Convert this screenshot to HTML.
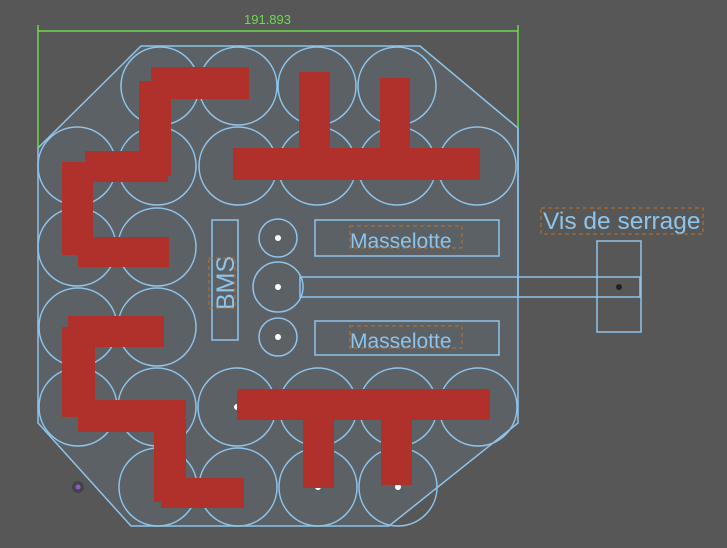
<!DOCTYPE html>
<html><head><style>body{margin:0;background:#575757;}svg{display:block}</style></head><body>
<svg width="727" height="548" xmlns="http://www.w3.org/2000/svg" font-family="Liberation Sans, sans-serif">
<rect width="727" height="548" fill="#575757"/>
<polygon points="141,46 420,46 518,128 518,423 389,526 131,526 38,423 38,148" fill="#5c6166" stroke="#8ec4ea" stroke-width="1.5"/>
<g fill="none" stroke="#8ec4ea" stroke-width="1.5">
<circle cx="160" cy="86" r="39"/><circle cx="238" cy="86" r="39"/><circle cx="317" cy="86" r="39"/><circle cx="397" cy="86" r="39"/>
<circle cx="77" cy="166" r="39"/><circle cx="157" cy="166" r="39"/><circle cx="238" cy="166" r="39"/><circle cx="317" cy="166" r="39"/><circle cx="397" cy="166" r="39"/><circle cx="477" cy="166" r="39"/>
<circle cx="77" cy="247" r="39"/><circle cx="157" cy="247" r="39"/>
<circle cx="78" cy="327" r="39"/><circle cx="157" cy="327" r="39"/>
<circle cx="78" cy="407" r="39"/><circle cx="157" cy="407" r="39"/><circle cx="237" cy="407" r="39"/><circle cx="318" cy="407" r="39"/><circle cx="398" cy="407" r="39"/><circle cx="478" cy="407" r="39"/>
<circle cx="158" cy="487" r="39"/><circle cx="238" cy="487" r="39"/><circle cx="318" cy="487" r="39"/><circle cx="398" cy="487" r="39"/>
<rect x="212" y="220" width="26" height="120"/>
<circle cx="278" cy="238" r="19"/><circle cx="278" cy="287" r="25"/><circle cx="278" cy="337" r="19"/>
<rect x="315" y="220" width="184" height="36"/><rect x="315" y="321" width="184" height="34"/>
<rect x="300" y="277" width="340" height="20"/>
<line x1="518" y1="128" x2="518" y2="297"/>
<rect x="597" y="241" width="44" height="91"/>
</g>
<g fill="#fff"><circle cx="278" cy="238" r="3"/><circle cx="278" cy="287" r="3"/><circle cx="278" cy="337" r="3"/><circle cx="318" cy="487" r="3"/><circle cx="398" cy="487" r="3"/><circle cx="237" cy="407" r="3"/></g>
<circle cx="619" cy="287" r="3" fill="#222"/>
<g fill="#b0302b">
<rect x="151" y="67" width="98" height="32"/><rect x="139" y="81" width="32" height="95"/><rect x="85" y="151" width="83" height="31"/><rect x="62" y="162" width="31" height="93"/><rect x="78" y="237" width="91" height="30"/>
<rect x="299" y="72" width="31" height="103"/><rect x="233" y="148" width="247" height="32"/><rect x="380" y="78" width="30" height="97"/>
<rect x="68" y="316" width="96" height="31"/><rect x="62" y="327" width="33" height="90"/><rect x="78" y="400" width="108" height="32"/><rect x="154" y="404" width="32" height="98"/><rect x="161" y="478" width="83" height="30"/>
<rect x="237" y="389" width="253" height="31"/><rect x="303" y="415" width="31" height="73"/><rect x="381" y="415" width="31" height="70"/>
</g>
<g fill="#8ec4ea">
<text x="350" y="248" font-size="21">Masselotte</text><text x="350" y="348" font-size="21">Masselotte</text>
<text x="543" y="229" font-size="24.5">Vis de serrage</text>
<text transform="translate(234,310) rotate(-90)" font-size="25">BMS</text>
</g>
<g fill="none" stroke="#b8742e" stroke-dasharray="4,3" stroke-width="1">
<rect x="541" y="208" width="162" height="26"/><rect x="350" y="226" width="112" height="22"/><rect x="350" y="326" width="112" height="22"/><rect x="209" y="258" width="26" height="50"/>
</g>
<g stroke="#6fd84f" stroke-width="1.5"><line x1="38" y1="31" x2="518" y2="31"/><line x1="38" y1="25" x2="38" y2="148"/><line x1="518" y1="25" x2="518" y2="128"/></g>
<text x="244" y="24" fill="#6fd84f" font-size="13">191.893</text>
<circle cx="78" cy="487" r="6" fill="#444"/><circle cx="78" cy="487" r="2.5" fill="#8a5cc8"/>
</svg>
</body></html>
